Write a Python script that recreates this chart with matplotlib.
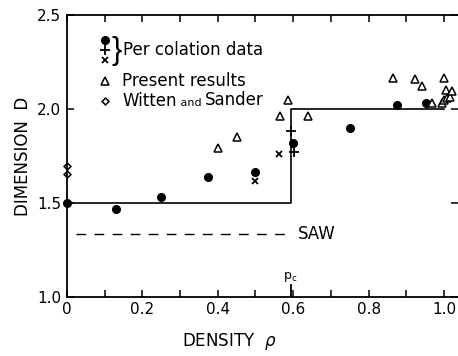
import matplotlib
matplotlib.use("Agg")
import matplotlib.pyplot as plt

# percolation data
perc_dot_x = [0.0, 0.13, 0.25, 0.375, 0.50, 0.60, 0.75, 0.875, 0.953]
perc_dot_y = [1.50, 1.47, 1.53, 1.64, 1.665, 1.82, 1.90, 2.02, 2.03]
perc_plus_x = [0.593, 0.602]
perc_plus_y = [1.883, 1.77]
perc_cross_x = [0.50, 0.562]
perc_cross_y = [1.617, 1.76]

# present results
tri_x = [0.40, 0.451, 0.566, 0.585, 0.64, 0.865, 0.923, 0.942, 0.968,
         0.995, 1.0, 1.005, 1.008, 1.016, 1.021, 1.0]
tri_y = [1.79, 1.85, 1.96, 2.05, 1.96, 2.165, 2.16, 2.12, 2.03,
         2.03, 2.048, 2.10, 2.059, 2.064, 2.096, 2.165]

# Witten and Sander
ws_x = [0.0, 0.0]
ws_y = [1.697, 1.654]

# theory lines
pc = 0.593
step_x = [0.0, pc, pc, 1.0]
step_y = [1.5, 1.5, 2.0, 2.0]
saw_x = [0.025, 0.585]
saw_y = [4.0 / 3.0, 4.0 / 3.0]

xticks = [0, 0.2, 0.4, 0.6, 0.8, 1.0]
xticklabels = ["0", "0.2", "0.4", "0.6", "0.8", "1.0"]
yticks = [1.0, 1.5, 2.0, 2.5]
yticklabels = ["1.0", "1.5", "2.0", "2.5"]

plt.rcParams['font.family'] = ['DejaVu Sans']

fig = plt.figure(figsize=(4.58, 3.56), dpi=100)
ax = fig.add_axes([0.146, 0.166, 0.854, 0.792])
ax.set_xlim(0, 1.037)
ax.set_ylim(1.0, 2.5)

ax.plot(step_x, step_y, color="black", lw=1.2)
ax.plot(saw_x, saw_y, color="black", lw=1.0, dashes=(7, 6))
ax.text(0.613, 4.0 / 3.0, "SAW", fontsize=12, va="center", ha="left")

ax.plot(perc_dot_x, perc_dot_y, "o", color="black", ms=5.5, clip_on=False)
ax.plot(perc_plus_x, perc_plus_y, "+", color="black", ms=7, mew=1.3, clip_on=False)
ax.plot(perc_cross_x, perc_cross_y, "x", color="black", ms=5, mew=1.3, clip_on=False)
ax.plot(tri_x, tri_y, "^", mfc="white", mec="black", ms=5.5, mew=1.1, clip_on=False)
ax.plot(ws_x, ws_y, "D", mfc="white", mec="black", ms=3.5, mew=1.1, clip_on=False)

# p_c marker on the axis
ax.plot([pc, pc], [1.0, 1.065], color="black", lw=1.3)
ax.text(pc, 1.07, r"$\mathregular{p_c}$", fontsize=9, ha="center", va="bottom")

# hand-made legend
tr = ax.transAxes
ax.plot([0.097], [0.911], "o", color="black", ms=5.5, transform=tr)
ax.plot([0.097], [0.876], "+", color="black", ms=7, mew=1.3, transform=tr)
ax.plot([0.097], [0.840], "x", color="black", ms=5, mew=1.3, transform=tr)
ax.text(0.113, 0.872, "}", fontsize=22, va="center", ha="left", transform=tr,
        family="Liberation Sans")
ax.text(0.143, 0.876, "Per colation data", fontsize=12, va="center", transform=tr)
ax.plot([0.097], [0.766], "^", mfc="white", mec="black", ms=5.5, mew=1.1, transform=tr)
ax.text(0.141, 0.766, "Present results", fontsize=12, va="center", transform=tr)
ax.plot([0.097], [0.695], "D", mfc="white", mec="black", ms=3.5, mew=1.1, transform=tr)
t1 = ax.text(0.141, 0.695, "Witten", fontsize=12, va="center", transform=tr)
t2 = ax.annotate(" and ", xy=(1.0, 0.12), xycoords=t1, fontsize=8, va="bottom")
ax.annotate("Sander", xy=(1.0, -0.12), xycoords=t2, fontsize=12, va="bottom")

ax.spines["right"].set_visible(False)
for s in ["left", "top", "bottom"]:
    ax.spines[s].set_linewidth(1.3)

ax.set_xticks(xticks)
ax.set_xticklabels(xticklabels)
ax.set_xticks([0.1, 0.3, 0.5, 0.7, 0.9], minor=True)
ax.set_yticks(yticks)
ax.set_yticklabels(yticklabels)
ax.tick_params(axis="both", which="both", direction="in", top=True, right=True,
               labelsize=11, width=1.1)
ax.tick_params(axis="both", which="major", length=5, pad=4)
ax.tick_params(axis="x", which="minor", length=5)

ax.set_ylabel("DIMENSION  D", fontsize=12)
ax.set_xlabel(r"DENSITY  $\rho$", fontsize=12)
ax.xaxis.set_label_coords(0.414, -0.12)

fig.savefig("out.png", dpi=100)
